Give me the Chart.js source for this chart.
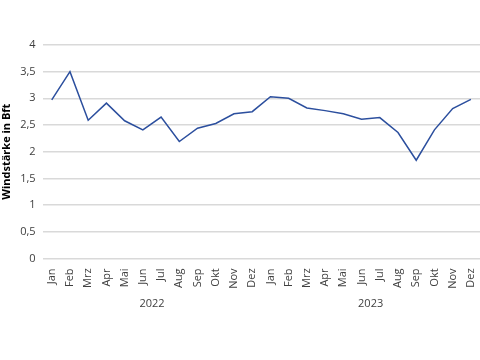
<!DOCTYPE html>
<html>
<head>
<meta charset="utf-8">
<script src="https://cdn.jsdelivr.net/npm/chart.js@4"></script>
<style>
  html, body { margin: 0; padding: 0; background: #fff; }
  #wrap { width: 480px; height: 360px; }
</style>
</head>
<body>
<div id="wrap"><canvas id="myChart" width="480" height="360"></canvas></div>
<script>
const months = ["Jan", "Feb", "Mrz", "Apr", "Mai", "Jun", "Jul", "Aug", "Sep", "Okt", "Nov", "Dez",
    "Jan", "Feb", "Mrz", "Apr", "Mai", "Jun", "Jul", "Aug", "Sep", "Okt", "Nov", "Dez"];
const years = ["2022", "2023"];
const windForce = [2.97, 3.5, 2.59, 2.91, 2.58, 2.41, 2.65, 2.19, 2.44, 2.53, 2.71, 2.75,
    3.03, 3.0, 2.82, 2.77, 2.71, 2.61, 2.64, 2.36, 1.84, 2.41, 2.81, 2.98];
const yTicks = [0, 0.5, 1, 1.5, 2, 2.5, 3, 3.5, 4];

const lineColor = "#2c4f9e";
const gridColor = "#d9d9d9";
const fontFamily = "'Open Sans', Lato, sans-serif";

// rotated labels make Chart.js reserve side space we don't want
const noSidePadding = (scale) => {
    scale.paddingLeft = 0;
    scale.paddingRight = 0;
};

const ctx = document.getElementById("myChart");

new Chart(ctx, {
    type: "line",
    data: {
        labels: months,
        datasets: [
            {
                label: "Windstärke",
                data: windForce,
                borderColor: lineColor,
                borderWidth: 1.5,
                pointRadius: 0,
                tension: 0,
                fill: false,
            },
        ],
    },
    options: {
        responsive: false,
        animation: false,
        layout: {
            padding: { top: 45, right: 0, bottom: 52, left: 0 },
        },
        plugins: {
            legend: { display: false },
            tooltip: { enabled: false },
        },
        scales: {
            x: {
                type: "category",
                offset: true,
                grid: { display: false },
                border: { display: false },
                afterFit: noSidePadding,
                ticks: {
                    maxRotation: 90,
                    minRotation: 90,
                    autoSkip: false,
                    color: "#404040",
                    padding: 2,
                    font: { family: fontFamily, size: 11 },
                },
            },
            x2: {
                type: "category",
                labels: years,
                position: "bottom",
                offset: true,
                grid: { display: false },
                border: { display: false },
                afterFit: noSidePadding,
                ticks: {
                    color: "#404040",
                    padding: -2,
                    font: { family: fontFamily, size: 11 },
                },
            },
            y: {
                min: 0,
                max: 4,
                afterBuildTicks: (axis) => {
                    axis.ticks = yTicks.map((v) => ({ value: v }));
                },
                grid: { color: gridColor, lineWidth: 1.5, drawTicks: false },
                border: { display: false },
                ticks: {
                    color: "#404040",
                    padding: 7,
                    font: { family: fontFamily, size: 11 },
                    callback: (value) => String(value).replace(".", ","),
                },
                title: {
                    display: true,
                    text: "Windstärke in Bft",
                    color: "#000",
                    padding: { top: 0, bottom: 0 },
                    font: { family: fontFamily, size: 11, weight: "bold" },
                },
            },
        },
    },
});
</script>
</body>
</html>
